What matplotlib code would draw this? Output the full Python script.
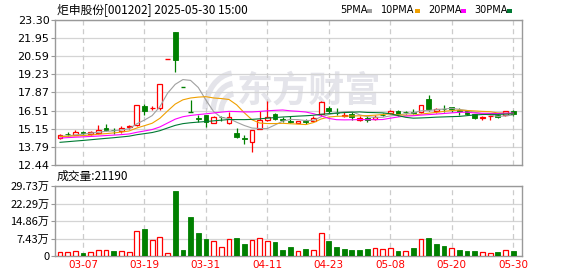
import numpy as np
import pandas as pd
import matplotlib
matplotlib.use("Agg")
import matplotlib.pyplot as plt
from matplotlib.patches import Rectangle, Arc

CJK = ['Noto Sans CJK SC', 'DejaVu Sans']

# ── data ──────────────────────────────────────
dates = ['03-04', '03-05', '03-06', '03-07', '03-10', '03-11', '03-12', '03-13', '03-14', '03-17',
         '03-18', '03-19', '03-20', '03-21', '03-24', '03-25', '03-26', '03-27', '03-28', '03-31',
         '04-01', '04-02', '04-03', '04-07', '04-08', '04-09', '04-10', '04-11', '04-14', '04-15',
         '04-16', '04-17', '04-18', '04-21', '04-22', '04-23', '04-24', '04-25', '04-28', '04-29',
         '04-30', '05-06', '05-07', '05-08', '05-09', '05-12', '05-13', '05-14', '05-15', '05-16',
         '05-19', '05-20', '05-21', '05-22', '05-23', '05-26', '05-27', '05-28', '05-29', '05-30']

opens  = [14.45, 14.78, 14.72, 14.92, 14.77, 14.87, 15.22, 15.08, 14.97, 15.30,
          15.40, 16.85, 16.68, 16.70, 20.38, 22.42, 18.26, 16.43, 15.95, 16.20,
          15.60, 16.05, 15.60, 14.85, 14.47, 14.14, 15.14, 15.84, 16.24, 15.90,
          15.73, 15.57, 15.72, 15.74, 16.27, 16.74, 16.36, 16.14, 16.27, 15.79,
          15.97, 15.89, 16.22, 16.32, 16.52, 16.42, 16.44, 16.39, 17.39, 16.52,
          16.67, 16.79, 16.55, 16.47, 16.27, 15.99, 16.12, 16.19, 16.22, 16.47]
highs  = [14.74, 14.90, 15.05, 15.02, 15.01, 15.45, 15.52, 15.22, 15.35, 15.47,
          16.95, 17.03, 16.85, 18.53, 20.38, 22.42, 18.26, 17.28, 16.15, 16.20,
          16.08, 16.10, 16.40, 15.22, 14.69, 15.06, 16.52, 17.22, 16.30, 16.00,
          16.09, 15.76, 15.89, 16.09, 17.27, 16.89, 16.69, 16.44, 16.39, 16.09,
          16.14, 16.19, 16.32, 16.55, 16.55, 16.52, 16.64, 16.97, 17.72, 16.72,
          16.94, 16.82, 16.69, 16.57, 16.29, 16.14, 16.17, 16.27, 16.52, 16.54]
lows   = [14.36, 14.58, 14.70, 14.70, 14.72, 14.74, 14.97, 14.77, 14.85, 15.12,
          15.35, 16.15, 16.53, 16.53, 20.38, 19.41, 18.26, 16.43, 15.65, 15.27,
          15.58, 15.70, 15.52, 14.45, 14.01, 13.44, 15.10, 15.77, 15.82, 15.68,
          15.57, 15.55, 15.52, 15.64, 16.14, 16.34, 16.19, 16.04, 15.84, 15.74,
          15.69, 15.79, 16.09, 16.29, 16.14, 16.27, 16.27, 16.32, 16.52, 16.34,
          16.44, 16.44, 16.19, 16.19, 15.92, 15.84, 15.84, 15.94, 16.14, 16.12]
closes = [14.72, 14.74, 14.90, 14.85, 14.92, 15.07, 15.08, 15.05, 15.22, 15.33,
          16.95, 16.48, 16.72, 18.53, 20.38, 20.29, 18.26, 16.43, 15.88, 15.65,
          16.00, 16.02, 16.03, 14.52, 14.42, 15.06, 15.82, 16.04, 15.87, 15.84,
          15.69, 15.74, 15.69, 15.99, 17.14, 16.52, 16.32, 16.17, 16.02, 15.97,
          15.82, 16.07, 16.19, 16.52, 16.27, 16.39, 16.36, 16.94, 16.64, 16.62,
          16.60, 16.64, 16.52, 16.24, 15.94, 16.04, 16.14, 16.02, 16.47, 16.25]
# 成交量 (万手)
volumes = [1.56, 1.70, 1.98, 1.27, 1.56, 2.41, 2.41, 2.12, 1.98, 1.70,
           10.61, 11.46, 6.79, 7.92, 1.27, 27.59, 2.55, 16.56, 9.76, 7.22,
           6.37, 3.68, 7.08, 7.64, 5.09, 6.79, 7.50, 6.37, 5.94, 2.55,
           3.68, 1.98, 2.97, 2.41, 9.62, 6.37, 3.68, 2.83, 2.55, 2.55,
           2.83, 3.25, 2.83, 3.25, 2.12, 2.12, 3.25, 7.08, 7.78, 5.09,
           4.25, 3.25, 2.55, 2.12, 2.12, 1.56, 1.13, 1.70, 2.41, 2.119]
# closes before 03-04 (for the moving averages)
pre_close = [13.35, 13.42, 13.50, 13.38, 13.46, 13.55, 13.60, 13.52, 13.58, 13.64,
             14.10, 14.25, 14.38, 14.30, 14.42, 14.35, 14.40, 14.46, 14.38, 14.46,
             14.50, 14.58, 14.62, 14.55, 14.48, 14.60, 14.52, 14.56, 14.54]

ma_periods = [5, 10, 20, 30]
ma_names   = ['5PMA', '10PMA', '20PMA', '30PMA']
ma_colors  = ['#a0a0a0', '#f0a000', '#ff00ff', '#007a33']

price_ticks = [12.44, 13.79, 15.15, 16.51, 17.87, 19.23, 20.59, 21.95, 23.30]
vol_tick_labels = ['0', '7.43万', '14.86万', '22.29万', '29.73万']
vol_top = 29.73
date_labels = ['03-07', '03-19', '03-31', '04-11', '04-23', '05-08', '05-20', '05-30']

RED, GREEN = '#ff0000', '#008000'
W = 0.62

# ── figure ─────────────────────────────────────
n = len(dates)
x = np.arange(n)
fig = plt.figure(figsize=(5.78, 2.76), dpi=100)
ax1 = fig.add_axes([55/578, 1-165/276, 467/578, 145/276])
ax2 = fig.add_axes([55/578, 1-256/276, 467/578, 70/276])

all_close = pd.Series(pre_close + closes)
for p, col in zip(ma_periods, ma_colors):
    ma = all_close.rolling(p).mean().values[len(pre_close):]
    ax1.plot(x, ma, color=col, lw=0.8, zorder=4)

prev = [pre_close[-1]] + closes[:-1]
for i in range(n):
    o, h, l, c = opens[i], highs[i], lows[i], closes[i]
    if c > o:
        ax1.vlines(i, c, h, color=RED, lw=0.9, zorder=3)
        ax1.vlines(i, l, o, color=RED, lw=0.9, zorder=3)
        ax1.add_patch(Rectangle((i-W/2, o), W, c-o, facecolor='white', edgecolor=RED, lw=0.9, zorder=3))
    elif c < o:
        ax1.vlines(i, l, h, color=GREEN, lw=0.9, zorder=3)
        ax1.add_patch(Rectangle((i-W/2, c), W, o-c, facecolor=GREEN, edgecolor=GREEN, lw=0.6, zorder=3))
    else:
        col = RED if c >= prev[i] else GREEN
        ax1.vlines(i, l, h, color=col, lw=0.9, zorder=3)
        ax1.hlines(o, i-W/2, i+W/2, color=col, lw=1.0, zorder=3)

    v = volumes[i] * 10000
    if closes[i] >= prev[i]:
        ax2.add_patch(Rectangle((i-W/2, 0), W, v, facecolor='white', edgecolor=RED, lw=0.9, zorder=3))
    else:
        ax2.add_patch(Rectangle((i-W/2, 0), W, v, facecolor=GREEN, edgecolor=GREEN, lw=0.6, zorder=3))

tick_pos = [dates.index(d) for d in date_labels]
for ax in (ax1, ax2):
    ax.set_xlim(-0.65, n + 0.15)
    for s in ax.spines.values():
        s.set_color('#999999')
        s.set_linewidth(1.0)
    for t in tick_pos:
        ax.axvline(t, color='#cccccc', lw=0.9, ls=(0, (4, 3)), zorder=1)
    ax.grid(axis='y', color='#d4d4d4', lw=0.9, zorder=1)
    ax.set_axisbelow(True)
    ax.tick_params(axis='y', length=3, width=0.8, color='#999999', labelsize=8, pad=1)
    ax.tick_params(axis='x', length=0)

ax1.set_ylim(price_ticks[0], price_ticks[-1])
ax1.set_yticks(price_ticks)
ax1.set_yticklabels([f'{t:.2f}' for t in price_ticks])
ax1.set_xticks([])

ax2.set_ylim(0, vol_top * 10000)
ax2.set_yticks(np.linspace(0, vol_top * 10000, 5))
ax2.set_yticklabels(vol_tick_labels, fontfamily=CJK)
ax2.set_xticks(tick_pos)
ax2.set_xticklabels(date_labels, color=RED, fontsize=7.5)
ax2.tick_params(axis='x', pad=3)

# watermark
ax1.text(0.545, 0.51, '东方财富', transform=ax1.transAxes, fontsize=26, fontweight='bold',
         color='#e4e4ea', ha='center', va='center', family=CJK, zorder=0.5)
wax = fig.add_axes([195/578, 1-114/276, 40/578, 50/276])
wax.set_xlim(0, 40); wax.set_ylim(0, 50); wax.axis('off')
for r, lw in [(30, 4), (22, 4), (14, 4)]:
    wax.add_patch(Arc((40, 2), 2*r, 2*r*1.3, theta1=95, theta2=175, color='#e4e4ea', lw=lw))
wax.set_zorder(-1)
ax1.set_zorder(1); ax1.patch.set_alpha(0)

# titles / legend
fig.text(57/578, 1-10/276, '炬申股份[001202] 2025-05-30 15:00', fontsize=8.5, family=CJK,
         va='center', ha='left')
lx = [340, 381, 428, 474]
sx = [367, 415, 461, 507]
for name, col, tx, qx in zip(ma_names, ma_colors, lx, sx):
    fig.text(tx/578, 1-10/276, name, fontsize=7, va='center', ha='left')
    fig.add_artist(Rectangle((qx/578, 1-12.5/276), 5/578, 4/276, transform=fig.transFigure,
                             facecolor=col, edgecolor='none'))
fig.text(57/578, 1-176/276, f'成交量:{int(round(volumes[-1]*10000))}', fontsize=8.5, family=CJK,
         va='center', ha='left')

fig.savefig('out.png', dpi=100)
